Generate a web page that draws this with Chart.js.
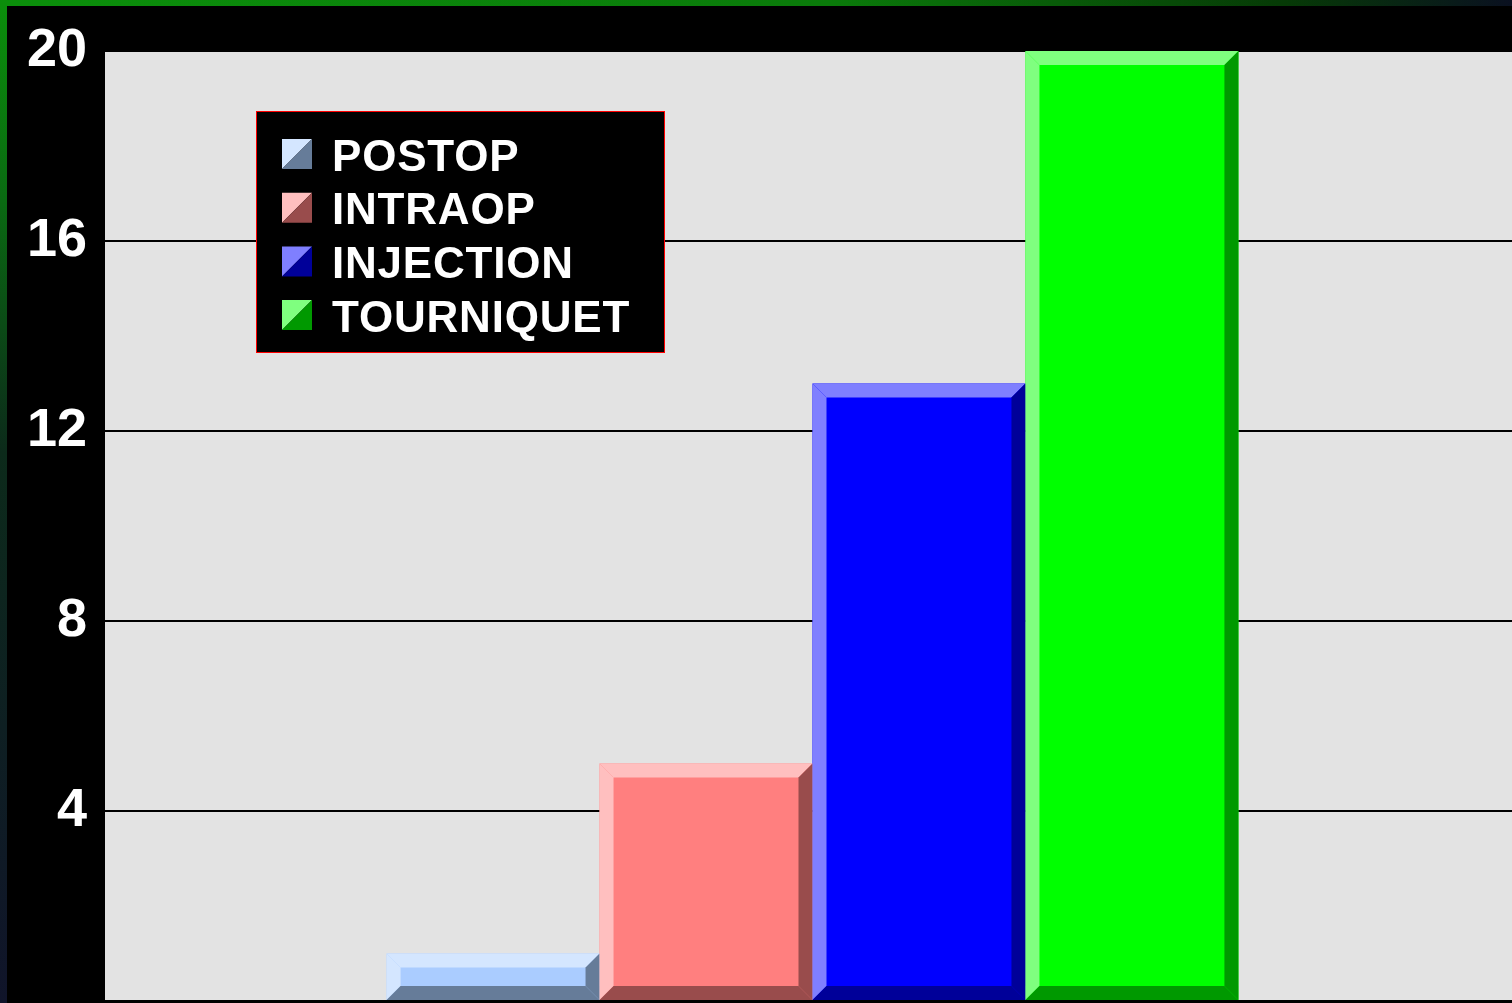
<!DOCTYPE html>
<html>
<head>
<meta charset="utf-8">
<script src="https://cdn.jsdelivr.net/npm/chart.js@4/dist/chart.umd.min.js"></script>
<style>
html,body{margin:0;padding:0;background:#000;overflow:hidden;}
#wrap{width:1512px;height:1003px;}
</style>
</head>
<body>
<div id="wrap"><canvas id="c" width="1512" height="1003"></canvas></div>
<script>
// ---- data ----
const categories = ['POSTOP', 'INTRAOP', 'INJECTION', 'TOURNIQUET'];
const values = [1, 5, 13, 20];
const yTicks = [4, 8, 12, 16, 20];

// ---- styles ----
const faceColors  = ['#aaccff', '#ff7f7f', '#0000ff', '#00ff00'];
const lightColors = ['#d4e6ff', '#ffbfbf', '#7f7fff', '#7fff7f'];
const darkColors  = ['#667c99', '#994c4c', '#000099', '#009900'];
const FONT = "'Liberation Sans', Arial, sans-serif";

const datasets = categories.map((name, i) => ({
  label: name,
  data: [values[i]],
  backgroundColor: faceColors[i],
  borderWidth: 0,
  borderSkipped: false,
  categoryPercentage: 0.602,
  barPercentage: 1.0
}));

const bgPlugin = {
  id: 'bg',
  beforeDraw(chart) {
    const ctx = chart.ctx, W = chart.width, H = chart.height, a = chart.chartArea;
    ctx.save();
    ctx.fillStyle = '#000';
    ctx.fillRect(0, 0, W, H);
    let g = ctx.createLinearGradient(0, 0, W, 0);
    g.addColorStop(0, '#0b8f0b');
    g.addColorStop(0.55, '#0a7a0a');
    g.addColorStop(0.85, '#063a06');
    g.addColorStop(1, '#0a1020');
    ctx.fillStyle = g;
    ctx.fillRect(0, 0, W, 6);
    g = ctx.createLinearGradient(0, 0, 0, H);
    g.addColorStop(0, '#0b8f0b');
    g.addColorStop(0.2, '#0a6a12');
    g.addColorStop(0.45, '#0c2a1a');
    g.addColorStop(1, '#10142a');
    ctx.fillStyle = g;
    ctx.fillRect(0, 0, 7, H);
    ctx.fillStyle = '#e3e3e3';
    ctx.fillRect(a.left, a.top, W - a.left, a.bottom - a.top);
    ctx.restore();
  }
};

// extend the category axis a little past the right edge (as in the original slide)
const shiftPlugin = {
  id: 'shiftX',
  afterLayout(chart) {
    const x = chart.scales.x;
    x.right += 8;
    x.width = x.right - x.left;
    x.configure();
  }
};

const bevelPlugin = {
  id: 'bevel',
  afterDatasetsDraw(chart) {
    const ctx = chart.ctx;
    const b = 14;
    chart.data.datasets.forEach((ds, i) => {
      const meta = chart.getDatasetMeta(i);
      meta.data.forEach(el => {
        const p = el.getProps(['x', 'y', 'base', 'width'], true);
        const L = p.x - p.width / 2, R = p.x + p.width / 2, T = p.y, B = p.base;
        const poly = (pts, col) => {
          ctx.beginPath();
          ctx.moveTo(pts[0][0], pts[0][1]);
          for (let k = 1; k < pts.length; k++) ctx.lineTo(pts[k][0], pts[k][1]);
          ctx.closePath();
          ctx.fillStyle = col;
          ctx.fill();
        };
        ctx.save();
        poly([[L, T], [R, T], [R - b, T + b], [L + b, T + b]], lightColors[i]);
        poly([[L, T], [L + b, T + b], [L + b, B - b], [L, B]], lightColors[i]);
        poly([[R, T], [R, B], [R - b, B - b], [R - b, T + b]], darkColors[i]);
        poly([[L, B], [R, B], [R - b, B - b], [L + b, B - b]], darkColors[i]);
        ctx.restore();
      });
    });
  }
};

const legendPlugin = {
  id: 'boxLegend',
  afterDraw(chart) {
    const ctx = chart.ctx;
    ctx.save();
    ctx.fillStyle = '#000';
    ctx.fillRect(256.5, 111.5, 408, 241);
    ctx.strokeStyle = '#ff0000';
    ctx.lineWidth = 1;
    ctx.strokeRect(256.5, 111.5, 408, 241);
    const rowStep = 53.7;
    chart.data.datasets.forEach((ds, i) => {
      const sx = 282, sy = 139 + rowStep * i, s = 30;
      ctx.beginPath();
      ctx.moveTo(sx, sy); ctx.lineTo(sx + s, sy); ctx.lineTo(sx, sy + s); ctx.closePath();
      ctx.fillStyle = lightColors[i]; ctx.fill();
      ctx.beginPath();
      ctx.moveTo(sx + s, sy); ctx.lineTo(sx + s, sy + s); ctx.lineTo(sx, sy + s); ctx.closePath();
      ctx.fillStyle = darkColors[i]; ctx.fill();
      ctx.fillStyle = '#ffffff';
      ctx.font = 'bold 44px ' + FONT;
      ctx.letterSpacing = '0.8px';
      ctx.textAlign = 'left';
      ctx.textBaseline = 'alphabetic';
      ctx.fillText(ds.label, 332, 170.5 + rowStep * i);
    });
    ctx.restore();
  }
};

new Chart(document.getElementById('c'), {
  type: 'bar',
  data: { labels: [''], datasets },
  options: {
    responsive: false,
    animation: false,
    layout: { padding: { top: 51, bottom: 2, left: 0, right: 0 } },
    plugins: { legend: { display: false }, tooltip: { enabled: false } },
    scales: {
      x: { display: false },
      y: {
        min: 0, max: 20,
        afterFit(scale) { scale.width = 105; scale.paddingBottom = 0; scale.paddingTop = 0; },
        afterBuildTicks(scale) { scale.ticks = [0].concat(yTicks).map(v => ({ value: v })); },
        ticks: {
          color: '#ffffff',
          font: { family: FONT, size: 54, weight: 'bold' },
          padding: 18,
          callback: v => (v === 0 ? '' : String(v))
        },
        grid: { color: '#000000', lineWidth: 2, drawTicks: false },
        border: { display: false }
      }
    }
  },
  plugins: [bgPlugin, shiftPlugin, bevelPlugin, legendPlugin]
});
</script>
</body>
</html>
